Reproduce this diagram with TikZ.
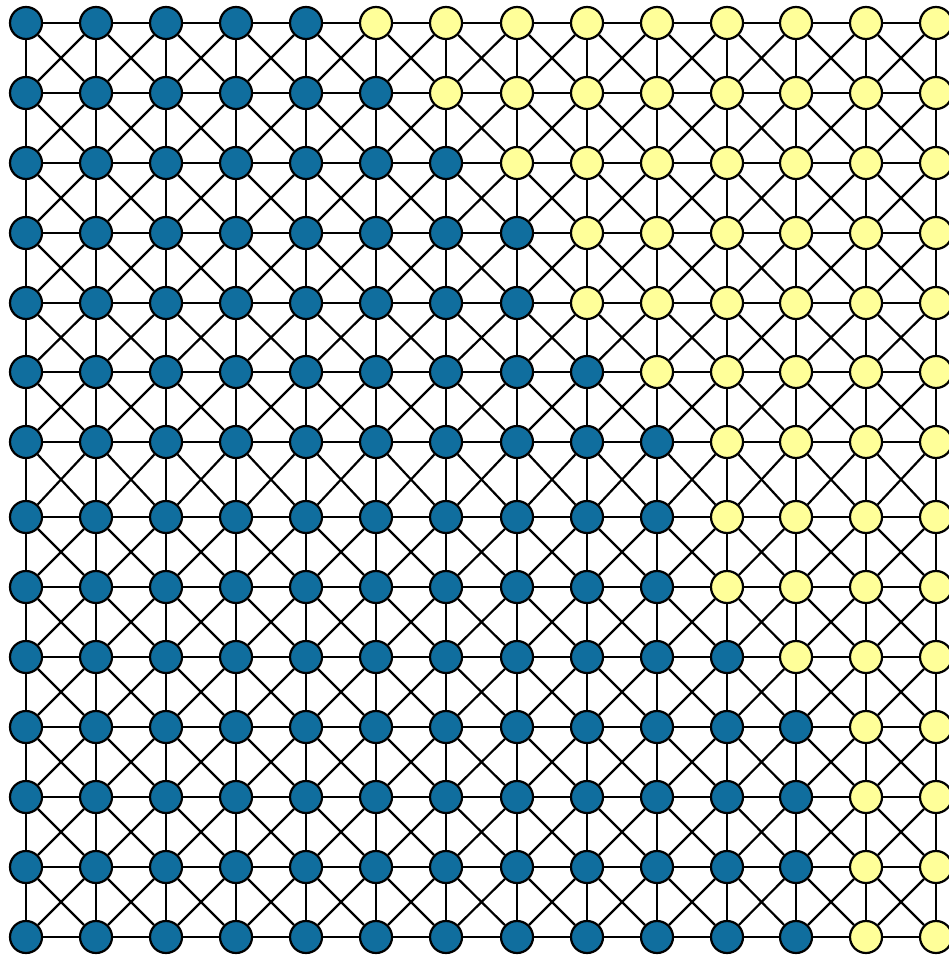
\documentclass[tikz,border=0pt]{standalone}
\usetikzlibrary{backgrounds}
\definecolor{nodeblue}{RGB}{16,110,158}
\definecolor{nodeyellow}{RGB}{255,255,153}
\begin{document}
\begin{tikzpicture}[x=1pt,y=-1pt,
  vtx/.style={circle,draw=black,line width=2.2pt,minimum size=32pt,inner sep=0pt},
  bluevtx/.style={vtx,fill=nodeblue},
  yellowvtx/.style={vtx,fill=nodeyellow},
  link/.style={draw=black,line width=2.2pt}]
\useasboundingbox (0,0) rectangle (949,955);
\foreach \yy [count=\r from 0] in {23,93,163,233,303,372,442,517,587,657,727,797,867,937}{
  \foreach \xx [count=\c from 0] in {26,96,166,236,306,376,446,517,587,657,727,796,866,936}{
    \pgfmathtruncatemacro\nb{{5,6,7,8,8,9,10,10,10,11,12,12,12,12}[\r]}
    \ifnum\c<\nb\relax
      \node[bluevtx] (n-\r-\c) at (\xx,\yy) {};
    \else
      \node[yellowvtx] (n-\r-\c) at (\xx,\yy) {};
    \fi
  }
}
\begin{scope}[on background layer]
\foreach \r in {0,...,13}{
  \foreach \c in {0,...,12}{
    \pgfmathtruncatemacro\cn{\c+1}
    \draw[link] (n-\r-\c) -- (n-\r-\cn);
    \draw[link] (n-\c-\r) -- (n-\cn-\r);
  }
}
\foreach \r in {0,...,12}{
  \pgfmathtruncatemacro\rn{\r+1}
  \foreach \c in {0,...,12}{
    \pgfmathtruncatemacro\cn{\c+1}
    \draw[link] (n-\r-\c) -- (n-\rn-\cn);
    \draw[link] (n-\r-\cn) -- (n-\rn-\c);
  }
}
\end{scope}
\end{tikzpicture}
\end{document}
